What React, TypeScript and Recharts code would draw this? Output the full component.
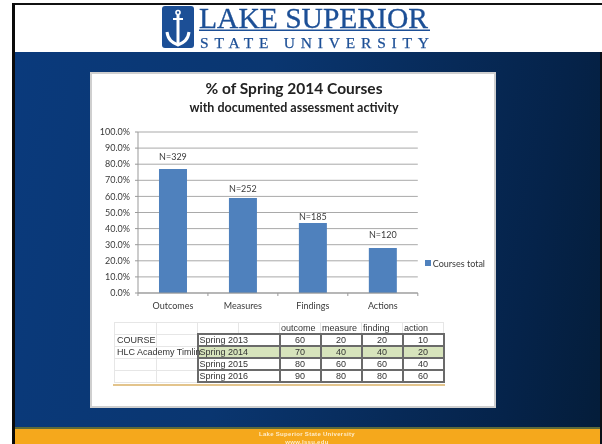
import React from "react";
import { ComposedChart, Bar, Line, XAxis, YAxis, CartesianGrid, Legend, LabelList } from "recharts";

const categories = ["Outcomes", "Measures", "Findings", "Actions"];
const coursesTotal = [77, 59, 43.5, 28];
const nLabels = ["N=329", "N=252", "N=185", "N=120"];
const nLabelLevels = [84.5, 64.8, 47.5, 36];
const yTicks = [0, 10, 20, 30, 40, 50, 60, 70, 80, 90, 100];

const tableHeader = ["outcome", "measure", "finding", "action"];
const tableSideLabels = ["COURSE", "HLC Academy Timlin", "", ""];
const terms = ["Spring 2013", "Spring 2014", "Spring 2015", "Spring 2016"];
const outcomeRow = [60, 70, 80, 90];
const measureRow = [20, 40, 60, 80];
const findingRow = [20, 40, 60, 80];
const actionRow = [10, 20, 40, 60];

const chartData = categories.map((name, i) => ({
  name,
  "Courses total": coursesTotal[i],
  nLabel: nLabels[i],
  labelAt: nLabelLevels[i],
}));

const CALIBRI = "Lato, 'Open Sans', sans-serif";
const ARIAL = "'Liberation Sans', Arial, sans-serif";
const SERIF = "'Liberation Serif', serif";
const BLUE = "#1c4f96";

function CategoryTick(props: any) {
  const { x, y, payload, index } = props;
  const half = 35;
  return (
    <g>
      <line x1={x - half} x2={x - half} y1={y - 8} y2={y - 5} stroke="#999" />
      {index === categories.length - 1 && <line x1={x + half} x2={x + half} y1={y - 8} y2={y - 5} stroke="#999" />}
      <text x={x} y={y + 8} textAnchor="middle" fontFamily={CALIBRI} fontSize={9} fill="#3a3a3a">
        {payload.value}
      </text>
    </g>
  );
}

function Logo() {
  return (
    <svg width={290} height={54} style={{ position: "absolute", left: 150, top: 0 }}>
      <rect x={12} y={6} width={32} height={42} rx={3} fill={BLUE} />
      <g stroke="#fff" fill="none" strokeWidth={3}>
        <circle cx={28} cy={12.5} r={2} strokeWidth={1.6} />
        <line x1={28} y1={15} x2={28} y2={44} />
        <line x1={23} y1={19} x2={33} y2={19} strokeWidth={2} />
        <path d="M17 32 C18 41 24 43 28 45 C32 43 38 41 39 32" />
      </g>
      <text
        x={49}
        y={27.5}
        fontFamily={SERIF}
        fontSize={30}
        fill={BLUE}
        stroke={BLUE}
        strokeWidth={0.3}
        textLength={229}
        lengthAdjust="spacingAndGlyphs"
      >
        LAKE SUPERIOR
      </text>
      <rect x={49} y={29.5} width={231} height={1.5} fill={BLUE} />
      <text
        x={50}
        y={47.5}
        fontFamily={SERIF}
        fontSize={15.5}
        fill={BLUE}
        stroke={BLUE}
        strokeWidth={0.25}
        textLength={229}
        lengthAdjust="spacing"
      >
        STATE UNIVERSITY
      </text>
    </svg>
  );
}

function DataTable() {
  const light = "1px solid #e6e6e6";
  const dark = "2px solid #6a6a6a";
  const base: React.CSSProperties = {
    padding: 0,
    height: 10,
    lineHeight: "10px",
    fontFamily: ARIAL,
    fontSize: 9,
    color: "#333",
    whiteSpace: "nowrap",
    overflow: "visible",
  };
  const columns = [outcomeRow, measureRow, findingRow, actionRow];
  return (
    <table
      style={{
        position: "absolute",
        left: 114,
        top: 322,
        width: 329,
        tableLayout: "fixed",
        borderCollapse: "collapse",
        borderSpacing: 0,
      }}
    >
      <colgroup>
        {[42, 41, 41, 41, 41, 41, 41, 41].map((w, i) => (
          <col key={i} style={{ width: w }} />
        ))}
      </colgroup>
      <tbody>
        <tr>
          {[0, 1, 2, 3].map((i) => (
            <td key={i} style={{ ...base, border: light }} />
          ))}
          {tableHeader.map((h) => (
            <td key={h} style={{ ...base, border: light, paddingLeft: 1 }}>
              {h}
            </td>
          ))}
        </tr>
        {terms.map((term, r) => {
          const bg = r === 1 ? "#d7e4bc" : "#fff";
          return (
            <tr key={term}>
              <td style={{ ...base, border: light, paddingLeft: 2 }}>{tableSideLabels[r]}</td>
              <td style={{ ...base, border: light }} />
              <td colSpan={2} style={{ ...base, border: dark, background: bg, paddingLeft: 1, overflow: "hidden" }}>
                {term}
              </td>
              {columns.map((col, c) => (
                <td key={c} style={{ ...base, border: dark, background: bg, textAlign: "center" }}>
                  {col[r]}
                </td>
              ))}
            </tr>
          );
        })}
      </tbody>
    </table>
  );
}

export default function App() {
  return (
    <div style={{ position: "fixed", left: 0, top: 0, width: 602, height: 444, overflow: "hidden", background: "#fff" }}>
      <div style={{ position: "absolute", inset: 0, filter: "blur(0.45px)" }}>
        <div style={{ position: "absolute", left: 12, top: 3, width: 590, height: 2, background: "#111" }} />
        <div style={{ position: "absolute", left: 12, top: 3, width: 3, height: 441, background: "#0a0a0a" }} />
        <div style={{ position: "absolute", left: 600, top: 52, width: 2, height: 392, background: "#0a0f18" }} />
        <div
          style={{
            position: "absolute",
            left: 15,
            top: 52,
            width: 585,
            height: 376,
            background: "linear-gradient(100deg, #0a3a7c 0%, #0a3670 40%, #072a58 68%, #05234a 85%, #041d3a 100%)",
          }}
        />
        <div style={{ position: "absolute", left: 15, top: 427, width: 585, height: 2, background: "#5d6b3a" }} />
        <div style={{ position: "absolute", left: 15, top: 429, width: 585, height: 15, background: "#f5a81c" }} />
        <div
          style={{
            position: "absolute",
            left: 207,
            width: 200,
            top: 430,
            textAlign: "center",
            fontFamily: ARIAL,
            fontWeight: 700,
            fontSize: 6,
            lineHeight: "8px",
            letterSpacing: 0.3,
            color: "#fdeccb",
          }}
        >
          Lake Superior State University
          <br />
          www.lssu.edu
        </div>
        <Logo />
        <div
          style={{
            position: "absolute",
            left: 90,
            top: 72,
            width: 402,
            height: 332,
            background: "#fff",
            border: "2px solid #cfcfcf",
          }}
        />
        <div
          style={{
            position: "absolute",
            left: 90,
            width: 408,
            top: 78,
            textAlign: "center",
            fontFamily: CALIBRI,
            fontWeight: 700,
            fontSize: 15.5,
            lineHeight: "20px",
            color: "#222",
          }}
        >
          % of Spring 2014 Courses
        </div>
        <div
          style={{
            position: "absolute",
            left: 90,
            width: 408,
            top: 100,
            textAlign: "center",
            fontFamily: CALIBRI,
            fontWeight: 700,
            fontSize: 12.5,
            lineHeight: "15px",
            color: "#222",
          }}
        >
          with documented assessment activity
        </div>
        <div style={{ position: "absolute", left: 90, top: 120 }}>
          <ComposedChart
            width={406}
            height={200}
            data={chartData}
            barCategoryGap="30%"
            margin={{ top: 12, right: 8, bottom: 10, left: 0 }}
          >
            <CartesianGrid vertical={false} stroke="#a9a9a9" strokeWidth={1} />
            <XAxis dataKey="name" height={17} stroke="#999" tickLine={false} interval={0} tick={<CategoryTick />} />
            <YAxis
              width={48}
              domain={[0, 100]}
              ticks={yTicks}
              interval={0}
              stroke="#999"
              tickSize={3}
              tickMargin={5}
              tickFormatter={(v: number) => v.toFixed(1) + "%"}
              tick={{ fontFamily: CALIBRI, fontSize: 9, fill: "#3a3a3a" }}
            />
            <Legend
              layout="vertical"
              align="right"
              verticalAlign="middle"
              iconType="square"
              iconSize={6}
              formatter={(value: string) => (
                <span style={{ fontFamily: CALIBRI, fontSize: 9, color: "#3a3a3a", marginLeft: -2 }}>{value}</span>
              )}
              wrapperStyle={{ margin: 0, top: 133, right: 1 }}
            />
            <Bar dataKey="Courses total" fill="#4f81bd" isAnimationActive={false} />
            <Line dataKey="labelAt" stroke="none" dot={false} legendType="none" isAnimationActive={false}>
              <LabelList dataKey="nLabel" position="center" fontFamily={CALIBRI} fontSize={9} fill="#3a3a3a" />
            </Line>
          </ComposedChart>
        </div>
        <DataTable />
        <div style={{ position: "absolute", left: 113, top: 384, width: 332, height: 1.5, background: "#e3c48c" }} />
      </div>
    </div>
  );
}
